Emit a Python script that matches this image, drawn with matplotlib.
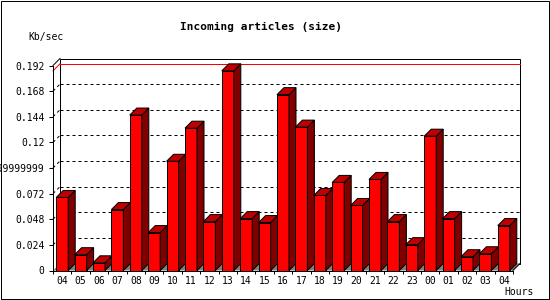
import matplotlib
matplotlib.use("Agg")
import matplotlib.pyplot as plt
from matplotlib.patches import Polygon, Rectangle
import numpy as np

# hourly values
hours = ['04', '05', '06', '07', '08', '09', '10', '11', '12', '13', '14', '15', '16',
         '17', '18', '19', '20', '21', '22', '23', '00', '01', '02', '03', '04']
kb_sec = [0.0684, 0.0148, 0.0072, 0.0571, 0.1456, 0.0355, 0.1023, 0.1333, 0.0458,
          0.1870, 0.0486, 0.0449, 0.1647, 0.1343, 0.0703, 0.0825, 0.0609, 0.0853,
          0.0458, 0.0242, 0.1258, 0.0486, 0.0129, 0.0157, 0.0421]
y_ticks = [0, 0.024, 0.048, 0.072, 0.096, 0.12, 0.144, 0.168, 0.192]
y_labels = ['0', '0.024', '0.048', '0.072', '0.09599999999999999', '0.12', '0.144', '0.168', '0.192']

plt.rcParams['font.family'] = ['DejaVu Sans Mono']
PX = 0.72  # one pixel in points

W, H = 550, 300
fig = plt.figure(figsize=(W / 100, H / 100), dpi=100)
fig.patch.set_facecolor('white')

# front plane of the plot in pixels
x0px, x1px, y0px, y1px = 53, 513, 270.5, 65.5
ax = fig.add_axes([x0px / W, 1 - y0px / H, (x1px - x0px) / W, (y0px - y1px) / H])
xmin, xmax = -0.5, len(hours) - 0.5
ymax = y_ticks[-1]
ax.set_xlim(xmin, xmax)
ax.set_ylim(0, ymax)
for s in ax.spines.values():
    s.set_visible(False)
ax.patch.set_visible(False)

# 3d depth, converted to data units
depth = 7
dx = depth * (xmax - xmin) / (x1px - x0px)
dy = depth * ymax / (y0px - y1px)

# back wall
ax.add_patch(Rectangle((xmin + dx, dy), xmax - xmin, ymax, facecolor='white',
                       edgecolor='black', lw=PX, zorder=1, clip_on=False))
# floor
ax.add_patch(Polygon([(xmin, 0), (xmax, 0), (xmax + dx, dy), (xmin + dx, dy)],
                     closed=True, facecolor='#808080', edgecolor='none', zorder=2, clip_on=False))
ax.plot([xmax, xmax + dx], [0, dy], color='black', lw=PX, zorder=2, clip_on=False)

# dotted grid on the back wall
for y in y_ticks[1:-1]:
    ax.plot([xmin + dx, xmax + dx], [y + dy, y + dy], color='black', lw=PX,
            ls=(0, (3, 3)), zorder=2, clip_on=False)
    ax.plot([xmin, xmin + dx], [y, y + dy], color='black', lw=PX,
            ls=(0, (3, 3)), zorder=2, clip_on=False)

# max line
vmax = max(kb_sec)
ax.plot([xmin + dx, xmax + dx], [vmax + dy, vmax + dy], color='red', lw=PX, zorder=2, clip_on=False)
ax.plot([xmin, xmin + dx], [vmax, vmax + dy], color='red', lw=PX, zorder=2, clip_on=False)

# front axis lines
ax.plot([xmin, xmin], [0, ymax], color='black', lw=PX, zorder=3, clip_on=False)
ax.plot([xmin, xmin + dx], [ymax, ymax + dy], color='black', lw=PX, zorder=3, clip_on=False)

# bars
xs = np.arange(len(hours))
w = 12 / ((x1px - x0px) / (xmax - xmin))
bars = ax.bar(xs, kb_sec, width=w, color='#ff0000', edgecolor='black', lw=PX)
for i, (b, v) in enumerate(zip(bars, kb_sec)):
    z = 10 + 3 * i
    b.set_zorder(z)
    b.set_clip_on(False)
    r = i + w / 2
    l = i - w / 2
    ax.add_patch(Polygon([(r, 0), (r + dx, dy), (r + dx, v + dy), (r, v)], closed=True,
                         facecolor='#800000', edgecolor='black', lw=PX, zorder=z + 1, clip_on=False))
    ax.add_patch(Polygon([(l, v), (r, v), (r + dx, v + dy), (l + dx, v + dy)], closed=True,
                         facecolor='#c00000', edgecolor='black', lw=PX, zorder=z + 1, clip_on=False))

ax.plot([xmin, xmax], [0, 0], color='black', lw=PX, zorder=200, clip_on=False)

# ticks
ax.set_xticks(xs, hours)
ax.set_xticks(np.arange(xmin, xmax + 0.01, 1), minor=True)
ax.tick_params(axis='x', which='major', length=0, pad=4, labelsize=7)
ax.tick_params(axis='x', which='minor', length=2.4, width=PX, direction='out')
ax.set_yticks(y_ticks, y_labels)
ax.tick_params(axis='y', length=2.6, width=PX, pad=3.6, labelsize=7)

# texts
fig.text(260.5 / W, 1 - 27 / H, 'Incoming articles (size)', ha='center', va='center',
         fontsize=8, fontweight='bold')
fig.text(28 / W, 1 - 37 / H, 'Kb/sec', ha='left', va='center', fontsize=7)
fig.text(504 / W, 1 - 292 / H, 'Hours', ha='left', va='center', fontsize=7)

# image border
fig.patches.append(Rectangle((0.5 / W, 1.5 / H), 548 / W, 298 / H, transform=fig.transFigure,
                             fill=False, edgecolor='black', lw=PX))

fig.savefig('out.png', dpi=100)
